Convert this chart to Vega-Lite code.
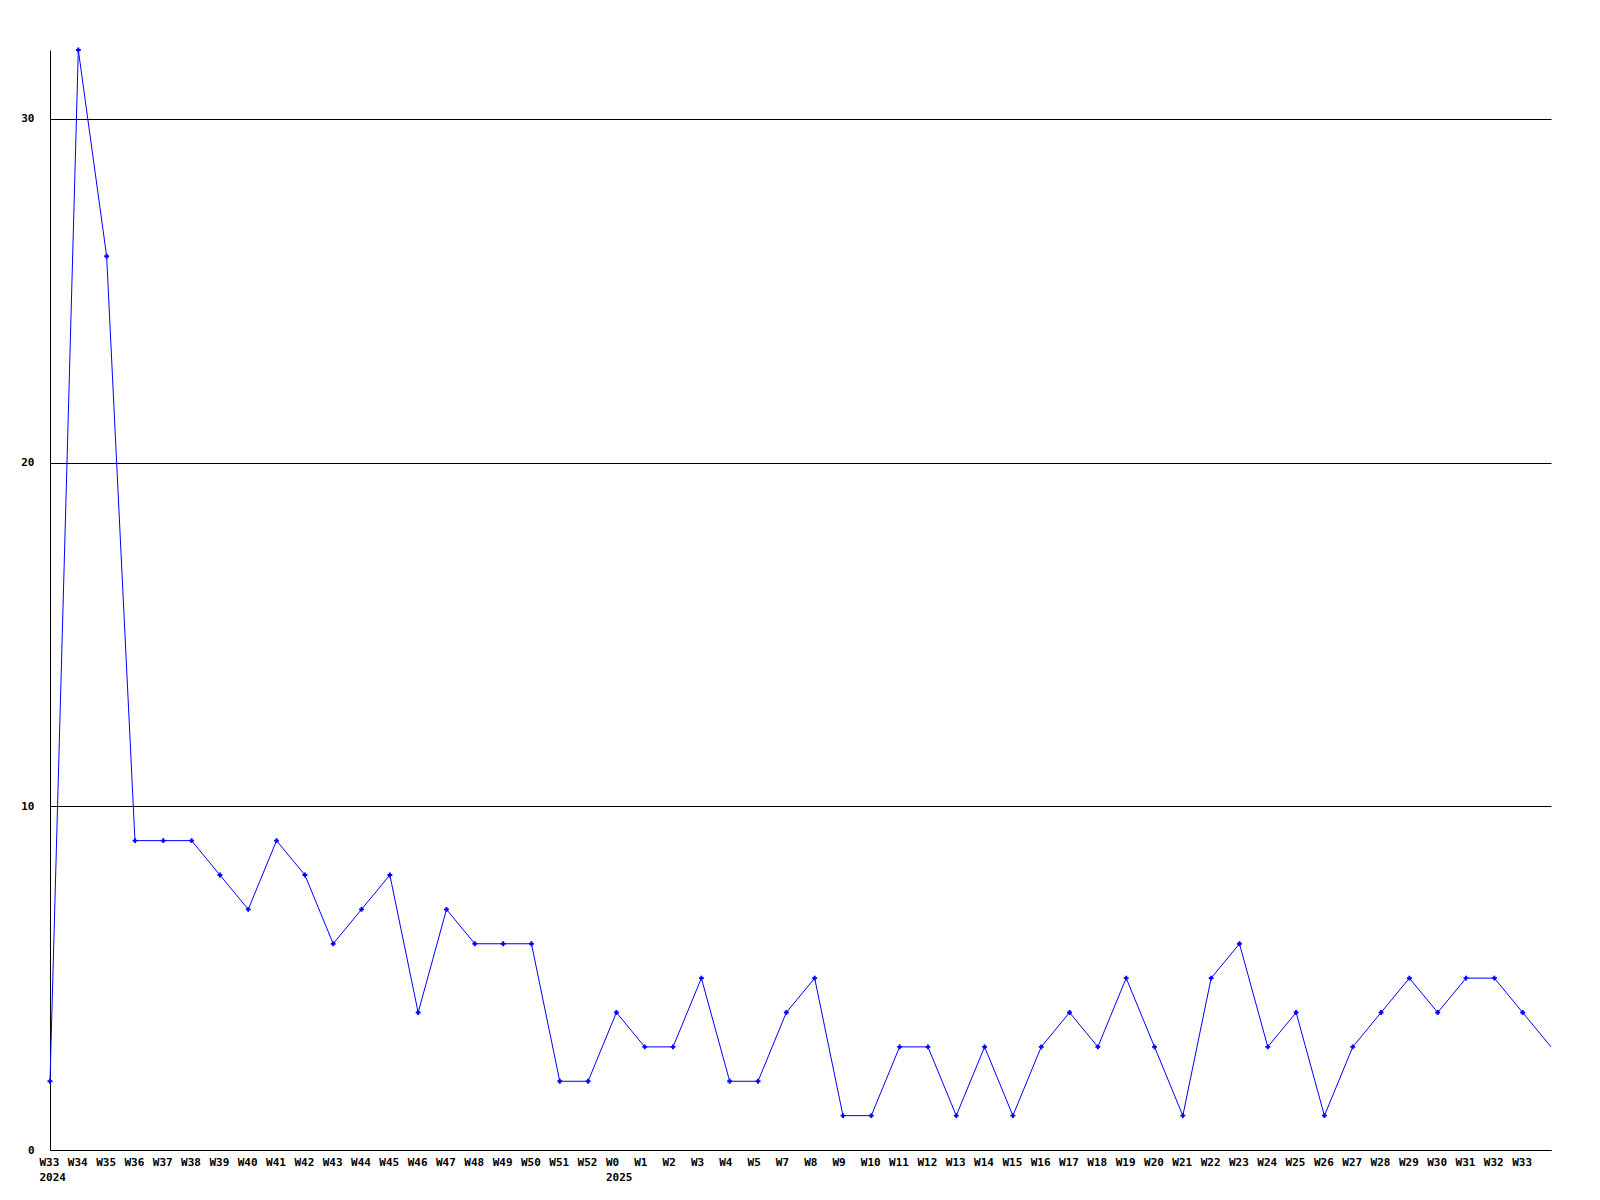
{
  "$schema": "https://vega.github.io/schema/vega-lite/v6.json",
  "width": 1501,
  "height": 1100,
  "autosize": {"type": "none"},
  "padding": {"left": 50, "top": 50, "right": 49, "bottom": 50},
  "background": "white",
  "config": {
    "view": {"stroke": null},
    "axis": {
      "labelFont": "DejaVu Sans Mono",
      "labelFontWeight": "bold",
      "labelFontSize": 11,
      "labelColor": "black",
      "domainColor": "black",
      "domainWidth": 1,
      "ticks": false,
      "gridColor": "black",
      "gridOpacity": 1,
      "gridWidth": 1,
      "title": null
    }
  },
  "data": {
    "values": [
      {"week": "W33|2024", "count": 2},
      {"week": "W34", "count": 32},
      {"week": "W35", "count": 26},
      {"week": "W36", "count": 9},
      {"week": "W37", "count": 9},
      {"week": "W38", "count": 9},
      {"week": "W39", "count": 8},
      {"week": "W40", "count": 7},
      {"week": "W41", "count": 9},
      {"week": "W42", "count": 8},
      {"week": "W43", "count": 6},
      {"week": "W44", "count": 7},
      {"week": "W45", "count": 8},
      {"week": "W46", "count": 4},
      {"week": "W47", "count": 7},
      {"week": "W48", "count": 6},
      {"week": "W49", "count": 6},
      {"week": "W50", "count": 6},
      {"week": "W51", "count": 2},
      {"week": "W52", "count": 2},
      {"week": "W0|2025", "count": 4},
      {"week": "W1", "count": 3},
      {"week": "W2", "count": 3},
      {"week": "W3", "count": 5},
      {"week": "W4", "count": 2},
      {"week": "W5", "count": 2},
      {"week": "W7", "count": 4},
      {"week": "W8", "count": 5},
      {"week": "W9", "count": 1},
      {"week": "W10", "count": 1},
      {"week": "W11", "count": 3},
      {"week": "W12", "count": 3},
      {"week": "W13", "count": 1},
      {"week": "W14", "count": 3},
      {"week": "W15", "count": 1},
      {"week": "W16", "count": 3},
      {"week": "W17", "count": 4},
      {"week": "W18", "count": 3},
      {"week": "W19", "count": 5},
      {"week": "W20", "count": 3},
      {"week": "W21", "count": 1},
      {"week": "W22", "count": 5},
      {"week": "W23", "count": 6},
      {"week": "W24", "count": 3},
      {"week": "W25", "count": 4},
      {"week": "W26", "count": 1},
      {"week": "W27", "count": 3},
      {"week": "W28", "count": 4},
      {"week": "W29", "count": 5},
      {"week": "W30", "count": 4},
      {"week": "W31", "count": 5},
      {"week": "W32", "count": 5},
      {"week": "W33", "count": 4},
      {"week": "end", "count": 3}
    ]
  },
  "encoding": {
    "x": {
      "field": "week",
      "type": "ordinal",
      "sort": null,
      "scale": {"type": "point", "padding": 0},
      "axis": {
        "labelAngle": 0,
        "labelAlign": "left",
        "labelOffset": -11,
        "labelBaseline": "top",
        "labelPadding": 6,
        "labelLineHeight": 15,
        "labelOverlap": false,
        "labelBound": false,
        "labelFlush": false,
        "labelExpr": "datum.value == 'end' ? '' : split(datum.value, '|')",
        "grid": false
      }
    },
    "y": {
      "field": "count",
      "type": "quantitative",
      "scale": {"domain": [0, 32], "nice": false, "zero": true},
      "axis": {
        "values": [0, 10, 20, 30],
        "grid": true,
        "labelPadding": 16
      }
    }
  },
  "layer": [
    {
      "mark": {"type": "line", "color": "#0000ff", "strokeWidth": 1}
    },
    {
      "transform": [{"filter": "datum.week != 'end'"}],
      "mark": {"type": "point", "shape": "cross", "filled": true, "color": "#0000ff", "size": 24, "opacity": 1}
    }
  ]
}
